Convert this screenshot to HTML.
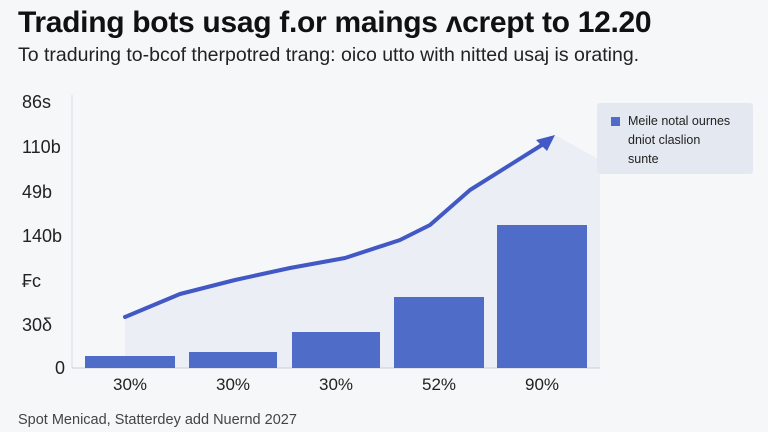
<!DOCTYPE html>
<html><head><style>
body{margin:0;width:768px;height:432px;background:#f6f7f9;font-family:"Liberation Sans",sans-serif;overflow:hidden;position:relative}
.t{position:absolute;left:18px;top:6px;font-size:30px;font-weight:bold;color:#111;letter-spacing:-0.3px;white-space:nowrap}
.s{position:absolute;left:18px;top:44px;font-size:19.5px;color:#222;white-space:nowrap}
.f{position:absolute;left:18px;top:412px;font-size:14.5px;color:#444;white-space:nowrap}
.y{position:absolute;font-size:18px;color:#222;left:22px}
.x{position:absolute;font-size:17px;color:#222;top:375px;width:90px;text-align:center}
.lg{position:absolute;left:597px;top:103px;width:156px;height:71px;background:#e4e8f0;border-radius:3px;font-size:12.5px;color:#222;line-height:19px}
</style></head><body>
<div class="t">Trading bots usag f.or maings ʌcrept to 12.20</div>
<div class="s">To traduring to-bcof therpotred trang: oico utto with nitted usaj is orating.</div>
<svg width="768" height="432" style="position:absolute;left:0;top:0">
<polygon points="125,317 180,294 235,280 290,268 345,258 400,240 430,225 470,190 555,135 600,160 600,368 125,368" fill="#e9ecf4" opacity="0.8"/>
<line x1="72" y1="95" x2="72" y2="368" stroke="#d8dbe2" stroke-width="1"/>
<line x1="72" y1="368" x2="600" y2="368" stroke="#c9cdd6" stroke-width="1"/>
<g fill="#4f6dc8">
<rect x="85" y="356" width="90" height="12"/>
<rect x="189" y="352" width="88" height="16"/>
<rect x="292" y="332" width="88" height="36"/>
<rect x="394" y="297" width="90" height="71"/>
<rect x="497" y="225" width="90" height="143"/>
</g>
<polyline points="125,317 180,294 235,280 290,268 345,258 400,240 430,225 470,190 545,143" fill="none" stroke="#4258c4" stroke-width="4" stroke-linejoin="round" stroke-linecap="round"/>
<polygon points="555,135 536,140 547,151" fill="#4258c4"/>
</svg>
<div class="y" style="top:92px">86s</div>
<div class="y" style="top:137px">110b</div>
<div class="y" style="top:182px">49b</div>
<div class="y" style="top:226px">140b</div>
<div class="y" style="top:271px">₣c</div>
<div class="y" style="top:315px">30δ</div>
<div class="y" style="top:358px;left:55px">0</div>
<div class="x" style="left:85px">30%</div>
<div class="x" style="left:188px">30%</div>
<div class="x" style="left:291px">30%</div>
<div class="x" style="left:394px">52%</div>
<div class="x" style="left:497px">90%</div>
<div class="lg"><div style="position:absolute;left:14px;top:14px;width:9px;height:9px;background:#4f6dc8"></div>
<div style="position:absolute;left:31px;top:9px">Meile notal ournes<br>dniot claslion<br>sunte</div></div>
<div class="f">Spot Menicad, Statterdey add Nuernd 2027</div>
</body></html>
